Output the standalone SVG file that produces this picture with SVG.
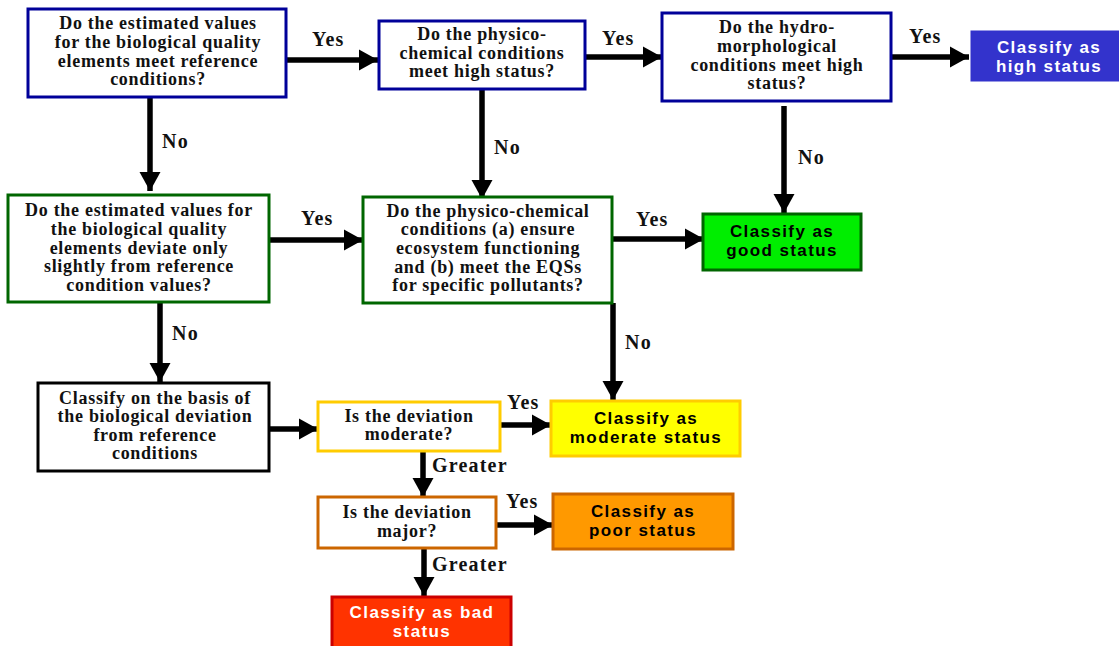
<svg xmlns="http://www.w3.org/2000/svg" width="1119" height="646" viewBox="0 0 1119 646">
<style>
.q{font-family:"Liberation Serif","Times New Roman",serif;font-weight:bold;font-size:18px;letter-spacing:0.7px;text-anchor:middle;fill:#111}
.s{font-family:"Liberation Sans",Arial,sans-serif;font-weight:bold;font-size:17px;letter-spacing:1.4px;text-anchor:middle}
.lbl{font-family:"Liberation Serif","Times New Roman",serif;font-weight:bold;font-size:20px;letter-spacing:1.2px;fill:#111}
.box{fill:#fff;stroke-width:3}
.conn line{stroke:#000;stroke-width:5.5;marker-end:url(#ah)}
</style>
<defs>
<marker id="ah" markerUnits="userSpaceOnUse" markerWidth="21" markerHeight="21" refX="19" refY="10.5" orient="auto" overflow="visible">
<path d="M0,0 L19,10.5 L0,21 Z" fill="#000"/>
</marker>
</defs>
<rect width="1119" height="646" fill="#fff"/>

<g id="connectors" class="conn">
<line x1="286" y1="60" x2="378" y2="60"/>
<line x1="150" y1="97" x2="150" y2="191"/>
<line x1="585" y1="57" x2="662" y2="57"/>
<line x1="482" y1="89" x2="482" y2="199"/>
<line x1="891" y1="57" x2="969" y2="57"/>
<line x1="784" y1="106" x2="784" y2="213"/>
<line x1="612" y1="239" x2="704" y2="239"/>
<line x1="269" y1="240" x2="363" y2="240"/>
<line x1="160" y1="302" x2="160" y2="382"/>
<line x1="613" y1="303" x2="613" y2="400"/>
<line x1="269" y1="429" x2="318" y2="429"/>
<line x1="500" y1="425" x2="551" y2="425"/>
<line x1="423" y1="451" x2="423" y2="497"/>
<line x1="496" y1="525" x2="553" y2="525"/>
<line x1="424" y1="548" x2="424" y2="596"/>
</g>
<g id="connector-labels">
<text class="lbl" x="312" y="46">Yes</text>
<text class="lbl" x="162" y="148">No</text>
<text class="lbl" x="602" y="45">Yes</text>
<text class="lbl" x="494" y="154">No</text>
<text class="lbl" x="909" y="43">Yes</text>
<text class="lbl" x="798" y="164">No</text>
<text class="lbl" x="636" y="226">Yes</text>
<text class="lbl" x="301" y="225">Yes</text>
<text class="lbl" x="172" y="340">No</text>
<text class="lbl" x="625" y="349">No</text>
<text class="lbl" x="507" y="409">Yes</text>
<text class="lbl" x="432" y="472">Greater</text>
<text class="lbl" x="506" y="508">Yes</text>
<text class="lbl" x="432" y="571">Greater</text>
</g>

<g id="q1">
<rect class="box" x="28" y="9" width="258" height="88" stroke="#000099"/>
<text class="q"><tspan x="158" y="29">Do the estimated values</tspan><tspan x="158" y="48">for the biological quality</tspan><tspan x="158" y="67">elements meet reference</tspan><tspan x="158" y="85">conditions?</tspan></text>
</g>
<g id="q2">
<rect class="box" x="379" y="21" width="206" height="68" stroke="#000099"/>
<text class="q"><tspan x="482" y="40">Do the physico-</tspan><tspan x="482" y="59">chemical conditions</tspan><tspan x="482" y="77">meet high status?</tspan></text>
</g>
<g id="q3">
<rect class="box" x="662" y="13" width="229" height="88" stroke="#000099"/>
<text class="q"><tspan x="777" y="33">Do the hydro-</tspan><tspan x="777" y="52">morphological</tspan><tspan x="777" y="71">conditions meet high</tspan><tspan x="777" y="89">status?</tspan></text>
</g>
<g id="high">
<rect x="971" y="31" width="150" height="50" fill="#3333cc" stroke="#3333cc" stroke-width="1"/>
<text class="s" fill="#fff"><tspan x="1049" y="53">Classify as</tspan><tspan x="1049" y="72">high status</tspan></text>
</g>
<g id="q5">
<rect class="box" x="8" y="195" width="261" height="107" stroke="#006600"/>
<text class="q"><tspan x="139" y="216">Do the estimated values for</tspan><tspan x="139" y="235">the biological quality</tspan><tspan x="139" y="254">elements deviate only</tspan><tspan x="139" y="272">slightly from reference</tspan><tspan x="139" y="291">condition values?</tspan></text>
</g>
<g id="q4">
<rect class="box" x="363" y="197" width="249" height="106" stroke="#006600"/>
<text class="q"><tspan x="488" y="217">Do the physico-chemical</tspan><tspan x="488" y="235">conditions (a) ensure</tspan><tspan x="488" y="254">ecosystem functioning</tspan><tspan x="488" y="273">and (b) meet the EQSs</tspan><tspan x="488" y="291">for specific pollutants?</tspan></text>
</g>
<g id="good">
<rect x="703" y="214" width="158" height="56" fill="#00ee00" stroke="#006600" stroke-width="3"/>
<text class="s" fill="#000"><tspan x="782" y="237">Classify as</tspan><tspan x="782" y="256">good status</tspan></text>
</g>
<g id="basis">
<rect class="box" x="38" y="383" width="231" height="88" stroke="#000"/>
<text class="q"><tspan x="155" y="404">Classify on the basis of</tspan><tspan x="155" y="422">the biological deviation</tspan><tspan x="155" y="441">from reference</tspan><tspan x="155" y="459">conditions</tspan></text>
</g>
<g id="qmod">
<rect class="box" x="318" y="402" width="182" height="49" stroke="#ffcc00"/>
<text class="q"><tspan x="409" y="422">Is the deviation</tspan><tspan x="409" y="440">moderate?</tspan></text>
</g>
<g id="moderate">
<rect x="551" y="401" width="189" height="55" fill="#ffff00" stroke="#ffcc00" stroke-width="3"/>
<text class="s" fill="#000"><tspan x="646" y="424">Classify as</tspan><tspan x="646" y="443">moderate status</tspan></text>
</g>
<g id="qmaj">
<rect class="box" x="318" y="497" width="178" height="51" stroke="#cc6600"/>
<text class="q"><tspan x="407" y="518">Is the deviation</tspan><tspan x="407" y="537">major?</tspan></text>
</g>
<g id="poor">
<rect x="553" y="494" width="180" height="55" fill="#ff9900" stroke="#cc6600" stroke-width="3"/>
<text class="s" fill="#000"><tspan x="643" y="517">Classify as</tspan><tspan x="643" y="536">poor status</tspan></text>
</g>
<g id="bad">
<rect x="332" y="597" width="179" height="52" fill="#ff3300" stroke="#cc0000" stroke-width="3"/>
<text class="s" fill="#fff"><tspan x="422" y="618">Classify as bad</tspan><tspan x="422" y="637">status</tspan></text>
</g>
</svg>
